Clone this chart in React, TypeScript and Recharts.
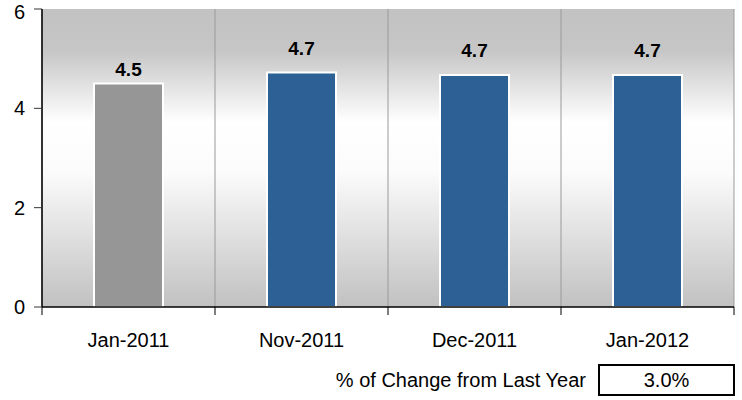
import React from 'react';
import { BarChart, Bar, XAxis, YAxis, CartesianGrid, Cell, LabelList } from 'recharts';

// Unemployment-style comparison: one year ago vs. the last three months
const periods = ['Jan-2011', 'Nov-2011', 'Dec-2011', 'Jan-2012'];
const values = [4.5, 4.72, 4.67, 4.67];
const yTicks = [0, 2, 4, 6];
const changeCaption = '% of Change from Last Year';
const changeValue = '3.0%';

const data = periods.map((period, i) => ({ period, value: values[i], slot: i + 0.5 }));
const edgeTicks = periods.map((_, i) => i).concat(periods.length);

const FONT = '"Liberation Sans", Arial, sans-serif';
const BASE_COLOR = '#969696';
const RECENT_COLOR = '#2d6196';

const ValueLabel = (props: any) => {
  const { x, y, width, value, index } = props;
  const lift = index === 0 ? 8 : 18;
  return (
    <text
      x={x + width / 2}
      y={y - lift}
      textAnchor="middle"
      fontFamily={FONT}
      fontSize={19}
      fontWeight="bold"
      fill="#000"
    >
      {Number(value).toFixed(1)}
    </text>
  );
};

export default function App() {
  return (
    <div style={{ position: 'absolute', left: 0, top: 0, width: 742, height: 400, background: '#fff', fontFamily: FONT }}>
      <BarChart
        width={742}
        height={400}
        data={data}
        margin={{ top: 9, right: 8, bottom: 53, left: 0 }}
        barCategoryGap={0}
      >
        <defs>
          <linearGradient id="plotBg" x1="0" y1="0" x2="0" y2="1">
            <stop offset="0%" stopColor="#c2c2c2" />
            <stop offset="14%" stopColor="#c6c6c6" />
            <stop offset="38%" stopColor="#ffffff" />
            <stop offset="55%" stopColor="#fbfbfb" />
            <stop offset="100%" stopColor="#c1c1c1" />
          </linearGradient>
        </defs>
        <CartesianGrid
          xAxisId="axisA"
          horizontal={false}
          vertical
          stroke="#9a9a9a"
          strokeWidth={1}
          fill="url(#plotBg)"
          fillOpacity={1}
        />
        {/* category labels, drawn without line or tick marks */}
        <XAxis
          xAxisId="axisB"
          dataKey="period"
          height={32}
          axisLine={false}
          tickLine={false}
          tickMargin={12}
          tick={{ fill: '#000', fontSize: 20, fontFamily: FONT }}
        />
        {/* numeric companion axis: baseline and tick marks on category edges */}
        <XAxis
          xAxisId="axisA"
          type="number"
          dataKey="slot"
          domain={[0, periods.length]}
          ticks={edgeTicks}
          allowDataOverflow
          height={8}
          tickSize={8}
          tickFormatter={() => ''}
          axisLine={{ stroke: '#000', strokeWidth: 1.5 }}
          tickLine={{ stroke: '#000' }}
        />
        <YAxis
          domain={[0, 6]}
          ticks={yTicks}
          width={42}
          tickSize={8}
          tickMargin={9}
          axisLine={{ stroke: '#000', strokeWidth: 1.5 }}
          tickLine={{ stroke: '#333' }}
          tick={{ fill: '#000', fontSize: 20, fontFamily: FONT }}
        />
        <Bar
          xAxisId="axisB"
          dataKey="value"
          barSize={69}
          stroke="#ffffff"
          strokeWidth={2}
          isAnimationActive={false}
        >
          {data.map((d, i) => (
            <Cell key={d.period} fill={i === 0 ? BASE_COLOR : RECENT_COLOR} />
          ))}
          <LabelList dataKey="value" content={<ValueLabel />} />
        </Bar>
      </BarChart>
      <div
        style={{
          position: 'absolute',
          right: 742 - 586,
          top: 364,
          fontSize: 20,
          lineHeight: '32px',
          color: '#000',
          whiteSpace: 'nowrap',
        }}
      >
        {changeCaption}
      </div>
      <div
        style={{
          position: 'absolute',
          left: 598,
          top: 364,
          width: 137,
          height: 32,
          boxSizing: 'border-box',
          border: '2px solid #000',
          fontSize: 20,
          lineHeight: '28px',
          textAlign: 'center',
          color: '#000',
        }}
      >
        {changeValue}
      </div>
    </div>
  );
}
